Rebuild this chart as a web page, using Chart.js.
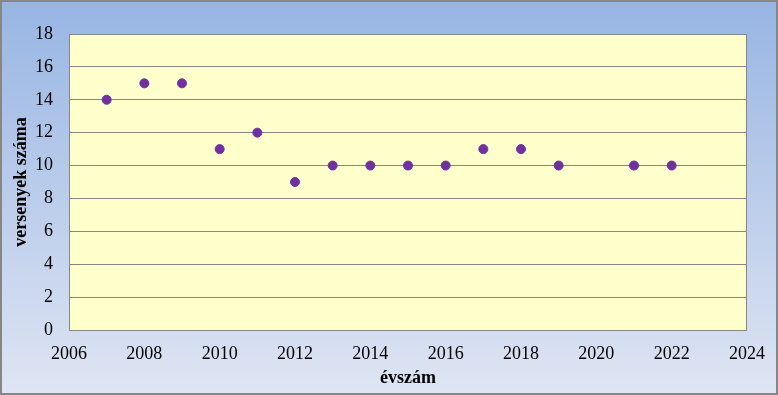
<!DOCTYPE html>
<html>
<head>
<meta charset="utf-8">
<script src="https://cdn.jsdelivr.net/npm/chart.js@4/dist/chart.umd.min.js"></script>
<style>
  html, body { margin: 0; padding: 0; background: #fff; }
  #wrap { width: 778px; height: 395px; }
</style>
</head>
<body>
<div id="wrap"><canvas id="myChart" width="778" height="395"></canvas></div>
<script>
// évszámok és versenyek száma
var evek = [2007, 2008, 2009, 2010, 2011, 2012, 2013, 2014, 2015, 2016, 2017, 2018, 2019, 2021, 2022];
var versenyek = [14, 15, 15, 11, 12, 9, 10, 10, 10, 10, 11, 11, 10, 10, 10];
var xTicks = [2006, 2008, 2010, 2012, 2014, 2016, 2018, 2020, 2022, 2024];
var yTicks = [0, 2, 4, 6, 8, 10, 12, 14, 16, 18];

var pontok = [];
for (var i = 0; i < evek.length; i++) {
  pontok.push({x: evek[i], y: versenyek[i]});
}

var hatter = {
  id: 'hatter',
  beforeDraw: function(chart) {
    var ctx = chart.ctx;
    var w = chart.width, h = chart.height;
    var g = ctx.createLinearGradient(0, 0, 0, h);
    g.addColorStop(0, '#97b5e3');
    g.addColorStop(1, '#dfe5f3');
    ctx.save();
    ctx.fillStyle = g;
    ctx.fillRect(0, 0, w, h);
    ctx.strokeStyle = '#868686';
    ctx.lineWidth = 2;
    ctx.strokeRect(1, 1, w - 2, h - 2);
    var a = chart.chartArea;
    ctx.fillStyle = '#ffffcc';
    ctx.fillRect(a.left, a.top, a.right - a.left, a.bottom - a.top);
    ctx.restore();
  },
  beforeDatasetsDraw: function(chart) {
    var ctx = chart.ctx;
    var a = chart.chartArea;
    ctx.save();
    ctx.strokeStyle = '#868686';
    ctx.lineWidth = 1;
    ctx.strokeRect(a.left + 0.5, a.top + 0.5, a.right - a.left - 1, a.bottom - a.top);
    ctx.restore();
  }
};

var betu = "'Liberation Serif', 'Times New Roman', serif";

new Chart(document.getElementById('myChart'), {
  type: 'scatter',
  data: {
    datasets: [{
      data: pontok,
      backgroundColor: '#7030a0',
      borderColor: '#7030a0',
      pointRadius: 4.5,
      pointHoverRadius: 4.5
    }]
  },
  options: {
    responsive: false,
    animation: false,
    layout: { padding: { left: 0, right: 30, top: 34, bottom: 0 } },
    plugins: { legend: { display: false }, tooltip: { enabled: false } },
    scales: {
      x: {
        type: 'linear',
        min: 2006, max: 2024,
        afterBuildTicks: function(ax) { ax.ticks = xTicks.map(function(v) { return {value: v}; }); },
        afterFit: function(ax) { ax.height = 65; },
        grid: { display: false, drawTicks: false },
        border: { display: false },
        ticks: {
          color: '#000', padding: 13, maxRotation: 0,
          font: { family: betu, size: 18 },
          callback: function(v) { return String(v); }
        },
        title: {
          display: true, text: 'évszám', color: '#000',
          font: { family: betu, size: 18, weight: 'bold' },
          padding: { top: 0, bottom: 6 }
        }
      },
      y: {
        min: 0, max: 18,
        afterBuildTicks: function(ax) { ax.ticks = yTicks.map(function(v) { return {value: v}; }); },
        afterFit: function(ax) { ax.width = 69; },
        grid: { color: '#868686', drawTicks: false, lineWidth: 1 },
        border: { display: false },
        ticks: {
          color: '#000', padding: 16,
          font: { family: betu, size: 18 }
        },
        title: {
          display: true, text: 'versenyek száma', color: '#000',
          font: { family: betu, size: 18, weight: 'bold' },
          padding: { top: 11, bottom: 0 }
        }
      }
    }
  },
  plugins: [hatter]
});
</script>
</body>
</html>
